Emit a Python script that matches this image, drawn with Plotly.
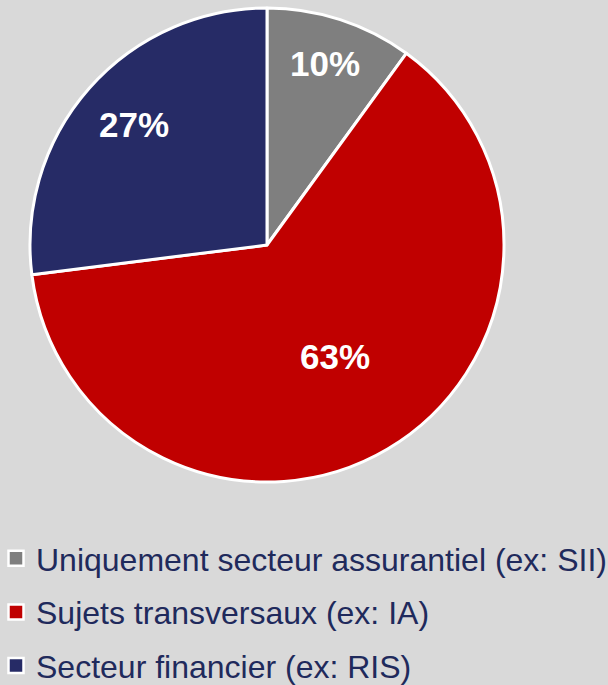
import math
import plotly.graph_objects as go

labels = ["Uniquement secteur assurantiel (ex: SII)", "Sujets transversaux (ex: IA)", "Secteur financier (ex: RIS)"]
values = [10, 63, 27]
colors = ["#7f7f7f", "#c00000", "#262b66"]

W, H = 608, 685
dom_x = [30 / W, 504 / W]
dom_y = [(H - 482) / H, (H - 8) / H]
label_radius = [0.79, 0.56, 0.75]  # radial placement of % labels (fraction of radius)

fig = go.Figure()
fig.add_trace(go.Pie(
    labels=labels, values=values, sort=False, direction="clockwise", rotation=0,
    marker=dict(colors=colors, line=dict(color="white", width=3)),
    textinfo="none",
    domain=dict(x=dom_x, y=dom_y),
    hoverinfo="label+percent", showlegend=False,
))

# percentage labels placed along each slice's mid-angle
cx = (dom_x[0] + dom_x[1]) / 2 * W
cy = (1 - (dom_y[0] + dom_y[1]) / 2) * H
R = (dom_x[1] - dom_x[0]) * W / 2
total = sum(values)
cum = 0
for v, rf in zip(values, label_radius):
    theta = 2 * math.pi * (cum + v / 2) / total
    cum += v
    px = cx + rf * R * math.sin(theta)
    py = cy - rf * R * math.cos(theta)
    fig.add_annotation(
        x=px / W, y=1 - py / H, xref="paper", yref="paper", showarrow=False,
        text=f"<b>{round(100 * v / total)}%</b>", xanchor="center", yanchor="middle",
        yshift=3,
        font=dict(family="Liberation Sans, Arial", size=35, color="white"),
    )

# legend entries (one group per category for spacing)
for lab, col in zip(labels, colors):
    fig.add_trace(go.Scatter(
        x=[None], y=[None], mode="markers", name=lab, legendgroup=lab,
        marker=dict(symbol="square", size=15, color=col, line=dict(color="white", width=2.5)),
        hoverinfo="skip",
    ))
fig.update_layout(
    width=W, height=H, margin=dict(l=0, r=0, t=0, b=0, autoexpand=False),
    paper_bgcolor="#d9d9d9", plot_bgcolor="#d9d9d9",
    showlegend=True,
    xaxis=dict(visible=False), yaxis=dict(visible=False),
    legend=dict(x=-4 / W, y=(H - 531) / H, xanchor="left", yanchor="top", orientation="v",
                font=dict(family="Liberation Sans, Arial", size=32, color="#1f2a5c"),
                bgcolor="rgba(0,0,0,0)", tracegroupgap=9),
    font=dict(family="Liberation Sans, Arial"),
)
fig.write_html("out.html", config={"displayModeBar": False},
               post_script="document.body.style.margin='0';document.body.style.overflow='hidden';")
